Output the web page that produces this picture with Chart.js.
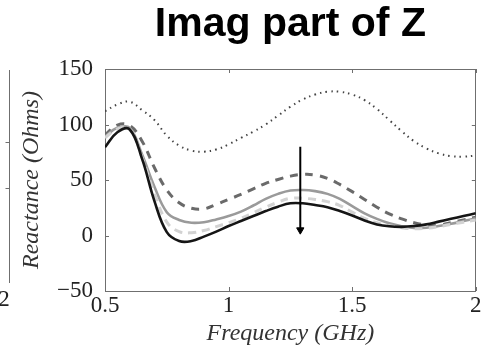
<!DOCTYPE html>
<html>
<head>
<meta charset="utf-8">
<script src="https://cdn.jsdelivr.net/npm/chart.js@4.4.1/dist/chart.umd.min.js"></script>
<style>
  html, body { margin: 0; padding: 0; background: #ffffff; }
  #wrap { width: 481px; height: 350px; }
</style>
</head>
<body>
<div id="wrap"><canvas id="c" width="481" height="350"></canvas></div>
<script>
// ---- data ----
const freq = [0.50,0.55,0.60,0.65,0.70,0.75,0.80,0.85,0.90,0.95,1.00,1.05,1.10,1.15,1.20,1.25,1.30,1.35,1.40,1.45,1.50,1.55,1.60,1.65,1.70,1.75,1.80,1.85,1.90,1.95,2.00];

const dottedSeries = [112,118,120.5,113,104,90,81,76.5,75.5,77.5,82,88,93.5,100,108,116,122.5,127,129.5,129.5,127,122,114,104,94,85,78.5,74,71.5,71,72];
const darkDashedSeries = [90.5,99.5,99,85,61,41,29.5,24.5,24,28,32.5,37,42,47,50.5,53.5,55,54.5,51.5,46,39.5,32.5,25.5,19.5,15,11.5,9.5,9.5,11.5,14,16.5];
const greySolidSeries = [89,97,97,73,44,21,14,11.5,12,14.5,17.5,21.5,27,33,37.5,40.5,41,40,37.5,33,26.5,20,15,11,8.3,6.8,7,8.5,10.5,13,15.5];
const lightDashedSeries = [88,96,96,70,38,12,3.5,2.5,4.5,8,11.5,15.5,20.5,25.5,30,33.5,33.5,32.5,30.5,27,21,15.5,11.5,8.8,7,6,6.5,8,10,12,14];
const blackSeries = [79.5,93,95.5,69,31,3,-5,-5,-1,3.5,8.5,13,17.5,22,26,29,29,27.5,25.5,22,18,13.5,10,8.3,7.8,8.5,10,12.5,15,17.5,20];

const arrowX = [1.29, 1.29];
const arrowY = [80, 5];

const xTickValues = [0.5, 1, 1.5, 2];
const xTickLabels = ['0.5', '1', '1.5', '2'];
const yTickValues = [-50, 0, 50, 100, 150];
const yTickLabels = ['\u221250', '0', '50', '100', '150'];

const titleText = 'Imag part of Z';
const xTitle = 'Frequency (GHz)';
const yTitle = 'Reactance (Ohms)';
const neighbourLabel = '2';

// ---- helpers ----
const pts = (xs, ys) => xs.map((v, i) => ({ x: v, y: ys[i] }));
const frameColor = '#6f6f6f';
const serif = "'Liberation Serif', 'DejaVu Serif', serif";

const innerTicks = {
  id: 'innerTicks',
  afterDraw(chart) {
    const { ctx, chartArea: a, scales } = chart;
    const x = scales.x, y = scales.y;
    ctx.save();
    ctx.strokeStyle = frameColor;
    ctx.lineWidth = 1;
    ctx.beginPath();
    xTickValues.forEach(v => {
      const px = Math.round(x.getPixelForValue(v)) + 0.5;
      ctx.moveTo(px, a.bottom); ctx.lineTo(px, a.bottom - 4);
      ctx.moveTo(px, a.top); ctx.lineTo(px, a.top + 4);
    });
    yTickValues.forEach(v => {
      const py = Math.round(y.getPixelForValue(v)) + 0.5;
      ctx.moveTo(a.left, py); ctx.lineTo(a.left + 4, py);
      ctx.moveTo(a.right, py); ctx.lineTo(a.right - 4, py);
    });
    // right border of the neighbouring (cut-off) panel
    ctx.moveTo(9.5, 70); ctx.lineTo(9.5, 283);
    [142, 188].forEach(py => { ctx.moveTo(9.5, py + 0.5); ctx.lineTo(5.5, py + 0.5); });
    ctx.stroke();
    ctx.fillStyle = '#222';
    ctx.font = "23px " + serif;
    ctx.textAlign = 'center';
    ctx.textBaseline = 'middle';
    ctx.fillText(neighbourLabel, 4, 300);
    ctx.restore();
  }
};

const noPad = s => { s.paddingLeft = 0; s.paddingRight = 0; s.paddingTop = 0; s.paddingBottom = 0; };

const ctx = document.getElementById('c').getContext('2d');
new Chart(ctx, {
  type: 'line',
  data: {
    datasets: [
      { label: 'arrow', data: pts(arrowX, arrowY), borderColor: '#000', backgroundColor: '#000',
        borderWidth: 2, pointRadius: [0, 4.2], pointStyle: 'triangle', rotation: 180,
        pointBorderWidth: 1, order: 0, tension: 0 },
      { label: 'black', data: pts(freq, blackSeries), borderColor: '#151515', borderWidth: 2.6, order: 1 },
      { label: 'light dashed', data: pts(freq, lightDashedSeries), borderColor: '#d2d2d2', borderWidth: 3, borderDash: [8, 6], order: 2 },
      { label: 'grey', data: pts(freq, greySolidSeries), borderColor: '#9a9a9a', borderWidth: 2.6, order: 3 },
      { label: 'dark dashed', data: pts(freq, darkDashedSeries), borderColor: '#6a6a6a', borderWidth: 3, borderDash: [8, 7], order: 4 },
      { label: 'dotted', data: pts(freq, dottedSeries), borderColor: '#444444', borderWidth: 2, borderDash: [1.5, 4.2], order: 5 }
    ]
  },
  options: {
    responsive: false,
    animation: false,
    devicePixelRatio: 1,
    layout: { padding: 0 },
    elements: {
      point: { radius: 0, hoverRadius: 0 },
      line: { tension: 0.4, fill: false }
    },
    plugins: {
      legend: { display: false },
      tooltip: { enabled: false },
      title: {
        display: true,
        text: titleText,
        fullSize: false,
        color: '#000',
        font: { family: "'Liberation Sans', Arial, sans-serif", size: 41, weight: 'bold', lineHeight: 1.2 },
        padding: { top: 0, bottom: 19.8 }
      }
    },
    scales: {
      x: {
        type: 'linear', position: 'bottom', min: 0.5, max: 2,
        afterFit(s) { s.height = 59; noPad(s); },
        afterBuildTicks(s) { s.ticks = xTickValues.map(v => ({ value: v })); },
        ticks: {
          color: '#222', padding: 1, maxRotation: 0, autoSkip: false,
          font: { family: serif, size: 23 },
          callback: v => xTickLabels[xTickValues.indexOf(v)]
        },
        grid: { display: false, drawTicks: false },
        border: { display: true, color: frameColor, width: 1 },
        title: { display: true, text: xTitle, color: '#333',
          font: { family: serif, size: 24, style: 'italic', lineHeight: 1.2 },
          padding: { top: 2, bottom: 2 } }
      },
      x2: {
        type: 'linear', position: 'top', min: 0.5, max: 2,
        afterFit(s) { s.height = 0; noPad(s); },
        ticks: { display: false },
        grid: { display: false, drawTicks: false },
        border: { display: true, color: frameColor, width: 1 }
      },
      y: {
        type: 'linear', position: 'left', min: -50, max: 150,
        afterFit(s) { s.width = 105; noPad(s); },
        afterBuildTicks(s) { s.ticks = yTickValues.map(v => ({ value: v })); },
        ticks: {
          color: '#222', padding: 12, autoSkip: false,
          font: { family: serif, size: 23 },
          callback: v => yTickLabels[yTickValues.indexOf(v)]
        },
        grid: { display: false, drawTicks: false },
        border: { display: true, color: frameColor, width: 1 },
        title: { display: true, text: yTitle, color: '#333',
          font: { family: serif, size: 24, style: 'italic', lineHeight: 1.2 },
          padding: { top: 17, bottom: 17 } }
      },
      y2: {
        type: 'linear', position: 'right', min: -50, max: 150,
        afterFit(s) { s.width = 2; noPad(s); },
        ticks: { display: false },
        grid: { display: false, drawTicks: false },
        border: { display: true, color: frameColor, width: 1 }
      }
    }
  },
  plugins: [innerTicks]
});
</script>
</body>
</html>
